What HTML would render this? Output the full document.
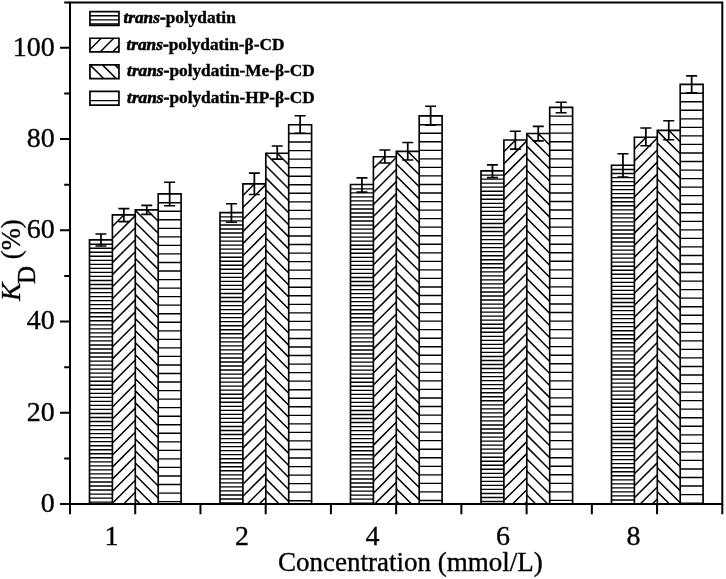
<!DOCTYPE html>
<html><head><meta charset="utf-8"><style>
html,body{margin:0;padding:0;background:#fff;}
svg{display:block;filter:grayscale(1);}
text{font-family:"Liberation Serif",serif;fill:#000;stroke:#000;stroke-width:0.35px;}
</style></head><body>
<svg width="726" height="579" viewBox="0 0 726 579">
<path d="M89.5,244.2H112.4M89.5,248.23H112.4M89.5,252.26H112.4M89.5,256.29H112.4M89.5,260.32H112.4M89.5,264.35H112.4M89.5,268.38H112.4M89.5,272.41H112.4M89.5,276.44H112.4M89.5,280.47H112.4M89.5,284.5H112.4M89.5,288.53H112.4M89.5,292.56H112.4M89.5,296.59H112.4M89.5,300.62H112.4M89.5,304.65H112.4M89.5,308.68H112.4M89.5,312.71H112.4M89.5,316.74H112.4M89.5,320.77H112.4M89.5,324.8H112.4M89.5,328.83H112.4M89.5,332.86H112.4M89.5,336.89H112.4M89.5,340.92H112.4M89.5,344.95H112.4M89.5,348.98H112.4M89.5,353.01H112.4M89.5,357.04H112.4M89.5,361.07H112.4M89.5,365.1H112.4M89.5,369.13H112.4M89.5,373.16H112.4M89.5,377.19H112.4M89.5,381.22H112.4M89.5,385.25H112.4M89.5,389.28H112.4M89.5,393.31H112.4M89.5,397.34H112.4M89.5,401.37H112.4M89.5,405.4H112.4M89.5,409.43H112.4M89.5,413.46H112.4M89.5,417.49H112.4M89.5,421.52H112.4M89.5,425.55H112.4M89.5,429.58H112.4M89.5,433.61H112.4M89.5,437.64H112.4M89.5,441.67H112.4M89.5,445.7H112.4M89.5,449.73H112.4M89.5,453.76H112.4M89.5,457.79H112.4M89.5,461.82H112.4M89.5,465.85H112.4M89.5,469.88H112.4M89.5,473.91H112.4M89.5,477.94H112.4M89.5,481.97H112.4M89.5,486H112.4M89.5,490.03H112.4M89.5,494.06H112.4M89.5,498.09H112.4M89.5,502.12H112.4M220,216.9H242.9M220,220.93H242.9M220,224.96H242.9M220,228.99H242.9M220,233.02H242.9M220,237.05H242.9M220,241.08H242.9M220,245.11H242.9M220,249.14H242.9M220,253.17H242.9M220,257.2H242.9M220,261.23H242.9M220,265.26H242.9M220,269.29H242.9M220,273.32H242.9M220,277.35H242.9M220,281.38H242.9M220,285.41H242.9M220,289.44H242.9M220,293.47H242.9M220,297.5H242.9M220,301.53H242.9M220,305.56H242.9M220,309.59H242.9M220,313.62H242.9M220,317.65H242.9M220,321.68H242.9M220,325.71H242.9M220,329.74H242.9M220,333.77H242.9M220,337.8H242.9M220,341.83H242.9M220,345.86H242.9M220,349.89H242.9M220,353.92H242.9M220,357.95H242.9M220,361.98H242.9M220,366.01H242.9M220,370.04H242.9M220,374.07H242.9M220,378.1H242.9M220,382.13H242.9M220,386.16H242.9M220,390.19H242.9M220,394.22H242.9M220,398.25H242.9M220,402.28H242.9M220,406.31H242.9M220,410.34H242.9M220,414.37H242.9M220,418.4H242.9M220,422.43H242.9M220,426.46H242.9M220,430.49H242.9M220,434.52H242.9M220,438.55H242.9M220,442.58H242.9M220,446.61H242.9M220,450.64H242.9M220,454.67H242.9M220,458.7H242.9M220,462.73H242.9M220,466.76H242.9M220,470.79H242.9M220,474.82H242.9M220,478.85H242.9M220,482.88H242.9M220,486.91H242.9M220,490.94H242.9M220,494.97H242.9M220,499H242.9M220,503.03H242.9M350.5,188.8H373.4M350.5,192.83H373.4M350.5,196.86H373.4M350.5,200.89H373.4M350.5,204.92H373.4M350.5,208.95H373.4M350.5,212.98H373.4M350.5,217.01H373.4M350.5,221.04H373.4M350.5,225.07H373.4M350.5,229.1H373.4M350.5,233.13H373.4M350.5,237.16H373.4M350.5,241.19H373.4M350.5,245.22H373.4M350.5,249.25H373.4M350.5,253.28H373.4M350.5,257.31H373.4M350.5,261.34H373.4M350.5,265.37H373.4M350.5,269.4H373.4M350.5,273.43H373.4M350.5,277.46H373.4M350.5,281.49H373.4M350.5,285.52H373.4M350.5,289.55H373.4M350.5,293.58H373.4M350.5,297.61H373.4M350.5,301.64H373.4M350.5,305.67H373.4M350.5,309.7H373.4M350.5,313.73H373.4M350.5,317.76H373.4M350.5,321.79H373.4M350.5,325.82H373.4M350.5,329.85H373.4M350.5,333.88H373.4M350.5,337.91H373.4M350.5,341.94H373.4M350.5,345.97H373.4M350.5,350H373.4M350.5,354.03H373.4M350.5,358.06H373.4M350.5,362.09H373.4M350.5,366.12H373.4M350.5,370.15H373.4M350.5,374.18H373.4M350.5,378.21H373.4M350.5,382.24H373.4M350.5,386.27H373.4M350.5,390.3H373.4M350.5,394.33H373.4M350.5,398.36H373.4M350.5,402.39H373.4M350.5,406.42H373.4M350.5,410.45H373.4M350.5,414.48H373.4M350.5,418.51H373.4M350.5,422.54H373.4M350.5,426.57H373.4M350.5,430.6H373.4M350.5,434.63H373.4M350.5,438.66H373.4M350.5,442.69H373.4M350.5,446.72H373.4M350.5,450.75H373.4M350.5,454.78H373.4M350.5,458.81H373.4M350.5,462.84H373.4M350.5,466.87H373.4M350.5,470.9H373.4M350.5,474.93H373.4M350.5,478.96H373.4M350.5,482.99H373.4M350.5,487.02H373.4M350.5,491.05H373.4M350.5,495.08H373.4M350.5,499.11H373.4M350.5,503.14H373.4M481,175.1H503.9M481,179.13H503.9M481,183.16H503.9M481,187.19H503.9M481,191.22H503.9M481,195.25H503.9M481,199.28H503.9M481,203.31H503.9M481,207.34H503.9M481,211.37H503.9M481,215.4H503.9M481,219.43H503.9M481,223.46H503.9M481,227.49H503.9M481,231.52H503.9M481,235.55H503.9M481,239.58H503.9M481,243.61H503.9M481,247.64H503.9M481,251.67H503.9M481,255.7H503.9M481,259.73H503.9M481,263.76H503.9M481,267.79H503.9M481,271.82H503.9M481,275.85H503.9M481,279.88H503.9M481,283.91H503.9M481,287.94H503.9M481,291.97H503.9M481,296H503.9M481,300.03H503.9M481,304.06H503.9M481,308.09H503.9M481,312.12H503.9M481,316.15H503.9M481,320.18H503.9M481,324.21H503.9M481,328.24H503.9M481,332.27H503.9M481,336.3H503.9M481,340.33H503.9M481,344.36H503.9M481,348.39H503.9M481,352.42H503.9M481,356.45H503.9M481,360.48H503.9M481,364.51H503.9M481,368.54H503.9M481,372.57H503.9M481,376.6H503.9M481,380.63H503.9M481,384.66H503.9M481,388.69H503.9M481,392.72H503.9M481,396.75H503.9M481,400.78H503.9M481,404.81H503.9M481,408.84H503.9M481,412.87H503.9M481,416.9H503.9M481,420.93H503.9M481,424.96H503.9M481,428.99H503.9M481,433.02H503.9M481,437.05H503.9M481,441.08H503.9M481,445.11H503.9M481,449.14H503.9M481,453.17H503.9M481,457.2H503.9M481,461.23H503.9M481,465.26H503.9M481,469.29H503.9M481,473.32H503.9M481,477.35H503.9M481,481.38H503.9M481,485.41H503.9M481,489.44H503.9M481,493.47H503.9M481,497.5H503.9M481,501.53H503.9M611.5,169.5H634.4M611.5,173.53H634.4M611.5,177.56H634.4M611.5,181.59H634.4M611.5,185.62H634.4M611.5,189.65H634.4M611.5,193.68H634.4M611.5,197.71H634.4M611.5,201.74H634.4M611.5,205.77H634.4M611.5,209.8H634.4M611.5,213.83H634.4M611.5,217.86H634.4M611.5,221.89H634.4M611.5,225.92H634.4M611.5,229.95H634.4M611.5,233.98H634.4M611.5,238.01H634.4M611.5,242.04H634.4M611.5,246.07H634.4M611.5,250.1H634.4M611.5,254.13H634.4M611.5,258.16H634.4M611.5,262.19H634.4M611.5,266.22H634.4M611.5,270.25H634.4M611.5,274.28H634.4M611.5,278.31H634.4M611.5,282.34H634.4M611.5,286.37H634.4M611.5,290.4H634.4M611.5,294.43H634.4M611.5,298.46H634.4M611.5,302.49H634.4M611.5,306.52H634.4M611.5,310.55H634.4M611.5,314.58H634.4M611.5,318.61H634.4M611.5,322.64H634.4M611.5,326.67H634.4M611.5,330.7H634.4M611.5,334.73H634.4M611.5,338.76H634.4M611.5,342.79H634.4M611.5,346.82H634.4M611.5,350.85H634.4M611.5,354.88H634.4M611.5,358.91H634.4M611.5,362.94H634.4M611.5,366.97H634.4M611.5,371H634.4M611.5,375.03H634.4M611.5,379.06H634.4M611.5,383.09H634.4M611.5,387.12H634.4M611.5,391.15H634.4M611.5,395.18H634.4M611.5,399.21H634.4M611.5,403.24H634.4M611.5,407.27H634.4M611.5,411.3H634.4M611.5,415.33H634.4M611.5,419.36H634.4M611.5,423.39H634.4M611.5,427.42H634.4M611.5,431.45H634.4M611.5,435.48H634.4M611.5,439.51H634.4M611.5,443.54H634.4M611.5,447.57H634.4M611.5,451.6H634.4M611.5,455.63H634.4M611.5,459.66H634.4M611.5,463.69H634.4M611.5,467.72H634.4M611.5,471.75H634.4M611.5,475.78H634.4M611.5,479.81H634.4M611.5,483.84H634.4M611.5,487.87H634.4M611.5,491.9H634.4M611.5,495.93H634.4M611.5,499.96H634.4" stroke="#000" stroke-width="1.35" fill="none"/>
<path d="M158.2,202.7H181.1M158.2,211.24H181.1M158.2,219.78H181.1M158.2,228.32H181.1M158.2,236.86H181.1M158.2,245.4H181.1M158.2,253.94H181.1M158.2,262.48H181.1M158.2,271.02H181.1M158.2,279.56H181.1M158.2,288.1H181.1M158.2,296.64H181.1M158.2,305.18H181.1M158.2,313.72H181.1M158.2,322.26H181.1M158.2,330.8H181.1M158.2,339.34H181.1M158.2,347.88H181.1M158.2,356.42H181.1M158.2,364.96H181.1M158.2,373.5H181.1M158.2,382.04H181.1M158.2,390.58H181.1M158.2,399.12H181.1M158.2,407.66H181.1M158.2,416.2H181.1M158.2,424.74H181.1M158.2,433.28H181.1M158.2,441.82H181.1M158.2,450.36H181.1M158.2,458.9H181.1M158.2,467.44H181.1M158.2,475.98H181.1M158.2,484.52H181.1M158.2,493.06H181.1M158.2,501.6H181.1M288.7,133.5H311.6M288.7,142.04H311.6M288.7,150.58H311.6M288.7,159.12H311.6M288.7,167.66H311.6M288.7,176.2H311.6M288.7,184.74H311.6M288.7,193.28H311.6M288.7,201.82H311.6M288.7,210.36H311.6M288.7,218.9H311.6M288.7,227.44H311.6M288.7,235.98H311.6M288.7,244.52H311.6M288.7,253.06H311.6M288.7,261.6H311.6M288.7,270.14H311.6M288.7,278.68H311.6M288.7,287.22H311.6M288.7,295.76H311.6M288.7,304.3H311.6M288.7,312.84H311.6M288.7,321.38H311.6M288.7,329.92H311.6M288.7,338.46H311.6M288.7,347H311.6M288.7,355.54H311.6M288.7,364.08H311.6M288.7,372.62H311.6M288.7,381.16H311.6M288.7,389.7H311.6M288.7,398.24H311.6M288.7,406.78H311.6M288.7,415.32H311.6M288.7,423.86H311.6M288.7,432.4H311.6M288.7,440.94H311.6M288.7,449.48H311.6M288.7,458.02H311.6M288.7,466.56H311.6M288.7,475.1H311.6M288.7,483.64H311.6M288.7,492.18H311.6M288.7,500.72H311.6M419.2,124.7H442.1M419.2,133.24H442.1M419.2,141.78H442.1M419.2,150.32H442.1M419.2,158.86H442.1M419.2,167.4H442.1M419.2,175.94H442.1M419.2,184.48H442.1M419.2,193.02H442.1M419.2,201.56H442.1M419.2,210.1H442.1M419.2,218.64H442.1M419.2,227.18H442.1M419.2,235.72H442.1M419.2,244.26H442.1M419.2,252.8H442.1M419.2,261.34H442.1M419.2,269.88H442.1M419.2,278.42H442.1M419.2,286.96H442.1M419.2,295.5H442.1M419.2,304.04H442.1M419.2,312.58H442.1M419.2,321.12H442.1M419.2,329.66H442.1M419.2,338.2H442.1M419.2,346.74H442.1M419.2,355.28H442.1M419.2,363.82H442.1M419.2,372.36H442.1M419.2,380.9H442.1M419.2,389.44H442.1M419.2,397.98H442.1M419.2,406.52H442.1M419.2,415.06H442.1M419.2,423.6H442.1M419.2,432.14H442.1M419.2,440.68H442.1M419.2,449.22H442.1M419.2,457.76H442.1M419.2,466.3H442.1M419.2,474.84H442.1M419.2,483.38H442.1M419.2,491.92H442.1M419.2,500.46H442.1M549.7,116.1H572.6M549.7,124.64H572.6M549.7,133.18H572.6M549.7,141.72H572.6M549.7,150.26H572.6M549.7,158.8H572.6M549.7,167.34H572.6M549.7,175.88H572.6M549.7,184.42H572.6M549.7,192.96H572.6M549.7,201.5H572.6M549.7,210.04H572.6M549.7,218.58H572.6M549.7,227.12H572.6M549.7,235.66H572.6M549.7,244.2H572.6M549.7,252.74H572.6M549.7,261.28H572.6M549.7,269.82H572.6M549.7,278.36H572.6M549.7,286.9H572.6M549.7,295.44H572.6M549.7,303.98H572.6M549.7,312.52H572.6M549.7,321.06H572.6M549.7,329.6H572.6M549.7,338.14H572.6M549.7,346.68H572.6M549.7,355.22H572.6M549.7,363.76H572.6M549.7,372.3H572.6M549.7,380.84H572.6M549.7,389.38H572.6M549.7,397.92H572.6M549.7,406.46H572.6M549.7,415H572.6M549.7,423.54H572.6M549.7,432.08H572.6M549.7,440.62H572.6M549.7,449.16H572.6M549.7,457.7H572.6M549.7,466.24H572.6M549.7,474.78H572.6M549.7,483.32H572.6M549.7,491.86H572.6M549.7,500.4H572.6M680.2,93.2H703.1M680.2,101.74H703.1M680.2,110.28H703.1M680.2,118.82H703.1M680.2,127.36H703.1M680.2,135.9H703.1M680.2,144.44H703.1M680.2,152.98H703.1M680.2,161.52H703.1M680.2,170.06H703.1M680.2,178.6H703.1M680.2,187.14H703.1M680.2,195.68H703.1M680.2,204.22H703.1M680.2,212.76H703.1M680.2,221.3H703.1M680.2,229.84H703.1M680.2,238.38H703.1M680.2,246.92H703.1M680.2,255.46H703.1M680.2,264H703.1M680.2,272.54H703.1M680.2,281.08H703.1M680.2,289.62H703.1M680.2,298.16H703.1M680.2,306.7H703.1M680.2,315.24H703.1M680.2,323.78H703.1M680.2,332.32H703.1M680.2,340.86H703.1M680.2,349.4H703.1M680.2,357.94H703.1M680.2,366.48H703.1M680.2,375.02H703.1M680.2,383.56H703.1M680.2,392.1H703.1M680.2,400.64H703.1M680.2,409.18H703.1M680.2,417.72H703.1M680.2,426.26H703.1M680.2,434.8H703.1M680.2,443.34H703.1M680.2,451.88H703.1M680.2,460.42H703.1M680.2,468.96H703.1M680.2,477.5H703.1M680.2,486.04H703.1M680.2,494.58H703.1M680.2,503.12H703.1" stroke="#000" stroke-width="1.35" fill="none"/>
<path d="M112.4,226.52L124.12,214.8M112.4,238.55L135.3,215.65M112.4,250.58L135.3,227.68M112.4,262.61L135.3,239.71M112.4,274.64L135.3,251.74M112.4,286.67L135.3,263.77M112.4,298.7L135.3,275.8M112.4,310.73L135.3,287.83M112.4,322.76L135.3,299.86M112.4,334.79L135.3,311.89M112.4,346.82L135.3,323.92M112.4,358.85L135.3,335.95M112.4,370.88L135.3,347.98M112.4,382.91L135.3,360.01M112.4,394.94L135.3,372.04M112.4,406.97L135.3,384.07M112.4,419L135.3,396.1M112.4,431.03L135.3,408.13M112.4,443.06L135.3,420.16M112.4,455.09L135.3,432.19M112.4,467.12L135.3,444.22M112.4,479.15L135.3,456.25M112.4,491.18L135.3,468.28M112.4,503.21L135.3,480.31M123.64,504L135.3,492.34M146.73,209.8L158.2,221.27M135.3,210.4L158.2,233.3M135.3,222.43L158.2,245.33M135.3,234.46L158.2,257.36M135.3,246.49L158.2,269.39M135.3,258.52L158.2,281.42M135.3,270.55L158.2,293.45M135.3,282.58L158.2,305.48M135.3,294.61L158.2,317.51M135.3,306.64L158.2,329.54M135.3,318.67L158.2,341.57M135.3,330.7L158.2,353.6M135.3,342.73L158.2,365.63M135.3,354.76L158.2,377.66M135.3,366.79L158.2,389.69M135.3,378.82L158.2,401.72M135.3,390.85L158.2,413.75M135.3,402.88L158.2,425.78M135.3,414.91L158.2,437.81M135.3,426.94L158.2,449.84M135.3,438.97L158.2,461.87M135.3,451L158.2,473.9M135.3,463.03L158.2,485.93M135.3,475.06L158.2,497.96M135.3,487.09L152.21,504M135.3,499.12L140.18,504M242.9,195.52L254.62,183.8M242.9,207.55L265.8,184.65M242.9,219.58L265.8,196.68M242.9,231.61L265.8,208.71M242.9,243.64L265.8,220.74M242.9,255.67L265.8,232.77M242.9,267.7L265.8,244.8M242.9,279.73L265.8,256.83M242.9,291.76L265.8,268.86M242.9,303.79L265.8,280.89M242.9,315.82L265.8,292.92M242.9,327.85L265.8,304.95M242.9,339.88L265.8,316.98M242.9,351.91L265.8,329.01M242.9,363.94L265.8,341.04M242.9,375.97L265.8,353.07M242.9,388L265.8,365.1M242.9,400.03L265.8,377.13M242.9,412.06L265.8,389.16M242.9,424.09L265.8,401.19M242.9,436.12L265.8,413.22M242.9,448.15L265.8,425.25M242.9,460.18L265.8,437.28M242.9,472.21L265.8,449.31M242.9,484.24L265.8,461.34M242.9,496.27L265.8,473.37M247.2,504L265.8,485.4M259.23,504L265.8,497.43M277.23,153.2L288.7,164.67M265.8,153.8L288.7,176.7M265.8,165.83L288.7,188.73M265.8,177.86L288.7,200.76M265.8,189.89L288.7,212.79M265.8,201.92L288.7,224.82M265.8,213.95L288.7,236.85M265.8,225.98L288.7,248.88M265.8,238.01L288.7,260.91M265.8,250.04L288.7,272.94M265.8,262.07L288.7,284.97M265.8,274.1L288.7,297M265.8,286.13L288.7,309.03M265.8,298.16L288.7,321.06M265.8,310.19L288.7,333.09M265.8,322.22L288.7,345.12M265.8,334.25L288.7,357.15M265.8,346.28L288.7,369.18M265.8,358.31L288.7,381.21M265.8,370.34L288.7,393.24M265.8,382.37L288.7,405.27M265.8,394.4L288.7,417.3M265.8,406.43L288.7,429.33M265.8,418.46L288.7,441.36M265.8,430.49L288.7,453.39M265.8,442.52L288.7,465.42M265.8,454.55L288.7,477.45M265.8,466.58L288.7,489.48M265.8,478.61L288.7,501.51M265.8,490.64L279.16,504M265.8,502.67L267.13,504M373.4,168.42L385.12,156.7M373.4,180.45L396.3,157.55M373.4,192.48L396.3,169.58M373.4,204.51L396.3,181.61M373.4,216.54L396.3,193.64M373.4,228.57L396.3,205.67M373.4,240.6L396.3,217.7M373.4,252.63L396.3,229.73M373.4,264.66L396.3,241.76M373.4,276.69L396.3,253.79M373.4,288.72L396.3,265.82M373.4,300.75L396.3,277.85M373.4,312.78L396.3,289.88M373.4,324.81L396.3,301.91M373.4,336.84L396.3,313.94M373.4,348.87L396.3,325.97M373.4,360.9L396.3,338M373.4,372.93L396.3,350.03M373.4,384.96L396.3,362.06M373.4,396.99L396.3,374.09M373.4,409.02L396.3,386.12M373.4,421.05L396.3,398.15M373.4,433.08L396.3,410.18M373.4,445.11L396.3,422.21M373.4,457.14L396.3,434.24M373.4,469.17L396.3,446.27M373.4,481.2L396.3,458.3M373.4,493.23L396.3,470.33M374.66,504L396.3,482.36M386.69,504L396.3,494.39M407.73,151.3L419.2,162.77M396.3,151.9L419.2,174.8M396.3,163.93L419.2,186.83M396.3,175.96L419.2,198.86M396.3,187.99L419.2,210.89M396.3,200.02L419.2,222.92M396.3,212.05L419.2,234.95M396.3,224.08L419.2,246.98M396.3,236.11L419.2,259.01M396.3,248.14L419.2,271.04M396.3,260.17L419.2,283.07M396.3,272.2L419.2,295.1M396.3,284.23L419.2,307.13M396.3,296.26L419.2,319.16M396.3,308.29L419.2,331.19M396.3,320.32L419.2,343.22M396.3,332.35L419.2,355.25M396.3,344.38L419.2,367.28M396.3,356.41L419.2,379.31M396.3,368.44L419.2,391.34M396.3,380.47L419.2,403.37M396.3,392.5L419.2,415.4M396.3,404.53L419.2,427.43M396.3,416.56L419.2,439.46M396.3,428.59L419.2,451.49M396.3,440.62L419.2,463.52M396.3,452.65L419.2,475.55M396.3,464.68L419.2,487.58M396.3,476.71L419.2,499.61M396.3,488.74L411.56,504M396.3,500.77L399.53,504M503.9,151.72L515.62,140M503.9,163.75L526.8,140.85M503.9,175.78L526.8,152.88M503.9,187.81L526.8,164.91M503.9,199.84L526.8,176.94M503.9,211.87L526.8,188.97M503.9,223.9L526.8,201M503.9,235.93L526.8,213.03M503.9,247.96L526.8,225.06M503.9,259.99L526.8,237.09M503.9,272.02L526.8,249.12M503.9,284.05L526.8,261.15M503.9,296.08L526.8,273.18M503.9,308.11L526.8,285.21M503.9,320.14L526.8,297.24M503.9,332.17L526.8,309.27M503.9,344.2L526.8,321.3M503.9,356.23L526.8,333.33M503.9,368.26L526.8,345.36M503.9,380.29L526.8,357.39M503.9,392.32L526.8,369.42M503.9,404.35L526.8,381.45M503.9,416.38L526.8,393.48M503.9,428.41L526.8,405.51M503.9,440.44L526.8,417.54M503.9,452.47L526.8,429.57M503.9,464.5L526.8,441.6M503.9,476.53L526.8,453.63M503.9,488.56L526.8,465.66M503.9,500.59L526.8,477.69M512.52,504L526.8,489.72M524.55,504L526.8,501.75M538.23,133.5L549.7,144.97M526.8,134.1L549.7,157M526.8,146.13L549.7,169.03M526.8,158.16L549.7,181.06M526.8,170.19L549.7,193.09M526.8,182.22L549.7,205.12M526.8,194.25L549.7,217.15M526.8,206.28L549.7,229.18M526.8,218.31L549.7,241.21M526.8,230.34L549.7,253.24M526.8,242.37L549.7,265.27M526.8,254.4L549.7,277.3M526.8,266.43L549.7,289.33M526.8,278.46L549.7,301.36M526.8,290.49L549.7,313.39M526.8,302.52L549.7,325.42M526.8,314.55L549.7,337.45M526.8,326.58L549.7,349.48M526.8,338.61L549.7,361.51M526.8,350.64L549.7,373.54M526.8,362.67L549.7,385.57M526.8,374.7L549.7,397.6M526.8,386.73L549.7,409.63M526.8,398.76L549.7,421.66M526.8,410.79L549.7,433.69M526.8,422.82L549.7,445.72M526.8,434.85L549.7,457.75M526.8,446.88L549.7,469.78M526.8,458.91L549.7,481.81M526.8,470.94L549.7,493.84M526.8,482.97L547.83,504M526.8,495L535.8,504M634.4,148.92L646.12,137.2M634.4,160.95L657.3,138.05M634.4,172.98L657.3,150.08M634.4,185.01L657.3,162.11M634.4,197.04L657.3,174.14M634.4,209.07L657.3,186.17M634.4,221.1L657.3,198.2M634.4,233.13L657.3,210.23M634.4,245.16L657.3,222.26M634.4,257.19L657.3,234.29M634.4,269.22L657.3,246.32M634.4,281.25L657.3,258.35M634.4,293.28L657.3,270.38M634.4,305.31L657.3,282.41M634.4,317.34L657.3,294.44M634.4,329.37L657.3,306.47M634.4,341.4L657.3,318.5M634.4,353.43L657.3,330.53M634.4,365.46L657.3,342.56M634.4,377.49L657.3,354.59M634.4,389.52L657.3,366.62M634.4,401.55L657.3,378.65M634.4,413.58L657.3,390.68M634.4,425.61L657.3,402.71M634.4,437.64L657.3,414.74M634.4,449.67L657.3,426.77M634.4,461.7L657.3,438.8M634.4,473.73L657.3,450.83M634.4,485.76L657.3,462.86M634.4,497.79L657.3,474.89M640.22,504L657.3,486.92M652.25,504L657.3,498.95M668.73,130.3L680.2,141.77M657.3,130.9L680.2,153.8M657.3,142.93L680.2,165.83M657.3,154.96L680.2,177.86M657.3,166.99L680.2,189.89M657.3,179.02L680.2,201.92M657.3,191.05L680.2,213.95M657.3,203.08L680.2,225.98M657.3,215.11L680.2,238.01M657.3,227.14L680.2,250.04M657.3,239.17L680.2,262.07M657.3,251.2L680.2,274.1M657.3,263.23L680.2,286.13M657.3,275.26L680.2,298.16M657.3,287.29L680.2,310.19M657.3,299.32L680.2,322.22M657.3,311.35L680.2,334.25M657.3,323.38L680.2,346.28M657.3,335.41L680.2,358.31M657.3,347.44L680.2,370.34M657.3,359.47L680.2,382.37M657.3,371.5L680.2,394.4M657.3,383.53L680.2,406.43M657.3,395.56L680.2,418.46M657.3,407.59L680.2,430.49M657.3,419.62L680.2,442.52M657.3,431.65L680.2,454.55M657.3,443.68L680.2,466.58M657.3,455.71L680.2,478.61M657.3,467.74L680.2,490.64M657.3,479.77L680.2,502.67M657.3,491.8L669.5,504" stroke="#000" stroke-width="1.5" fill="none"/>
<path d="M89.5,504V239.9H112.4V504M112.4,504V214.8H135.3V504M135.3,504V209.8H158.2V504M158.2,504V193.9H181.1V504M220,504V212.6H242.9V504M242.9,504V183.8H265.8V504M265.8,504V153.2H288.7V504M288.7,504V124.7H311.6V504M350.5,504V184.5H373.4V504M373.4,504V156.7H396.3V504M396.3,504V151.3H419.2V504M419.2,504V115.9H442.1V504M481,504V170.8H503.9V504M503.9,504V140H526.8V504M526.8,504V133.5H549.7V504M549.7,504V107.3H572.6V504M611.5,504V165.2H634.4V504M634.4,504V137.2H657.3V504M657.3,504V130.3H680.2V504M680.2,504V84.4H703.1V504" stroke="#000" stroke-width="1.65" fill="none"/>
<path d="M100.95,234V246M123.85,208.6V221.6M146.75,205.4V214.4M169.65,182.2V205.8M231.45,203.8V222.3M254.35,173.1V194.5M277.25,146V159.1M300.15,115.7V133.2M361.95,177.9V192.1M384.85,150V163M407.75,142.5V160M430.65,106.3V125.3M492.45,164.9V177.6M515.35,131.3V149.1M538.25,126.4V140.9M561.15,102.2V112.8M622.95,153.8V177M645.85,128V145.8M668.75,120.7V139.8M691.65,75.9V92.8" stroke="#000" stroke-width="1.75" fill="none"/>
<path d="M95.45,234H106.45M95.45,246H106.45M118.35,208.6H129.35M118.35,221.6H129.35M141.25,205.4H152.25M141.25,214.4H152.25M164.15,182.2H175.15M164.15,205.8H175.15M225.95,203.8H236.95M225.95,222.3H236.95M248.85,173.1H259.85M248.85,194.5H259.85M271.75,146H282.75M271.75,159.1H282.75M294.65,115.7H305.65M294.65,133.2H305.65M356.45,177.9H367.45M356.45,192.1H367.45M379.35,150H390.35M379.35,163H390.35M402.25,142.5H413.25M402.25,160H413.25M425.15,106.3H436.15M425.15,125.3H436.15M486.95,164.9H497.95M486.95,177.6H497.95M509.85,131.3H520.85M509.85,149.1H520.85M532.75,126.4H543.75M532.75,140.9H543.75M555.65,102.2H566.65M555.65,112.8H566.65M617.45,153.8H628.45M617.45,177H628.45M640.35,128H651.35M640.35,145.8H651.35M663.25,120.7H674.25M663.25,139.8H674.25M686.15,75.9H697.15M686.15,92.8H697.15" stroke="#000" stroke-width="1.6" fill="none"/>
<path d="M70.0,2.6H722.3V504.0H70.0Z" fill="none" stroke="#000" stroke-width="2"/>
<path d="M60,504H70.0M64.2,458.38H70.0M60,412.76H70.0M64.2,367.14H70.0M60,321.52H70.0M64.2,275.9H70.0M60,230.28H70.0M64.2,184.66H70.0M60,139.04H70.0M64.2,93.42H70.0M60,47.8H70.0M64.2,2.6H70.0M70,504.0V514.2M135.23,504.0V514.2M200.46,504.0V514.2M265.69,504.0V514.2M330.92,504.0V514.2M396.15,504.0V514.2M461.38,504.0V514.2M526.61,504.0V514.2M591.84,504.0V514.2M657.07,504.0V514.2M722.3,504.0V514.2" stroke="#000" stroke-width="2" fill="none"/>
<text x="54.8" y="511.8" font-size="28" text-anchor="end">0</text>
<text x="54.8" y="420.56" font-size="28" text-anchor="end">20</text>
<text x="54.8" y="329.32" font-size="28" text-anchor="end">40</text>
<text x="54.8" y="238.08" font-size="28" text-anchor="end">60</text>
<text x="54.8" y="146.84" font-size="28" text-anchor="end">80</text>
<text x="54.8" y="55.6" font-size="28" text-anchor="end">100</text>
<text x="111.5" y="544.8" font-size="28" text-anchor="middle">1</text>
<text x="242" y="544.8" font-size="28" text-anchor="middle">2</text>
<text x="372.5" y="544.8" font-size="28" text-anchor="middle">4</text>
<text x="503" y="544.8" font-size="28" text-anchor="middle">6</text>
<text x="633.5" y="544.8" font-size="28" text-anchor="middle">8</text>
<text x="278" y="570.5" font-size="27">Concentration (mmol/L)</text>
<text transform="translate(20.3,301) rotate(-90)" font-size="27.5"><tspan font-style="italic">K</tspan><tspan font-size="25" dx="-1.3" dy="14.3">D</tspan><tspan dx="0.1" dy="-14.3" font-size="26.5"> (%)</tspan></text>
<path d="M89.95,15.75H118.95M89.95,19.85H118.95M89.95,23.95H118.95M89.95,100.59H118.95" stroke="#000" stroke-width="1.4" fill="none"/>
<path d="M89.95,49.55L101.25,38.25M100.05,51.95L113.75,38.25M112.55,51.95L118.95,45.55M114.95,64.85L118.95,68.85M102.45,64.85L116.15,78.55M89.95,64.85L103.65,78.55M89.95,77.35L91.15,78.55" stroke="#000" stroke-width="1.5" fill="none"/>
<path d="M89.95,11.65H118.95V25.35H89.95ZM89.95,38.25H118.95V51.95H89.95ZM89.95,64.85H118.95V78.55H89.95ZM89.95,91.45H118.95V105.15H89.95Z" stroke="#000" stroke-width="1.7" fill="none"/>
<text x="123.4" y="23.2" font-size="17.3" font-weight="bold" style="stroke-width:0.4px"><tspan font-style="italic" style="stroke-width:0.6px">trans</tspan><tspan style="stroke-width:0.7px">-</tspan>polydatin</text>
<text x="126.4" y="49.65" font-size="17.3" font-weight="bold" style="stroke-width:0.4px"><tspan font-style="italic" style="stroke-width:0.6px">trans</tspan><tspan style="stroke-width:0.7px">-</tspan>polydatin-β-CD</text>
<text x="127.1" y="76.1" font-size="17.3" font-weight="bold" style="stroke-width:0.4px"><tspan font-style="italic" style="stroke-width:0.6px">trans</tspan><tspan style="stroke-width:0.7px">-</tspan>polydatin-Me-β-CD</text>
<text x="127.1" y="102.55" font-size="17.3" font-weight="bold" style="stroke-width:0.4px"><tspan font-style="italic" style="stroke-width:0.6px">trans</tspan><tspan style="stroke-width:0.7px">-</tspan>polydatin-HP-β-CD</text>
</svg></body></html>
